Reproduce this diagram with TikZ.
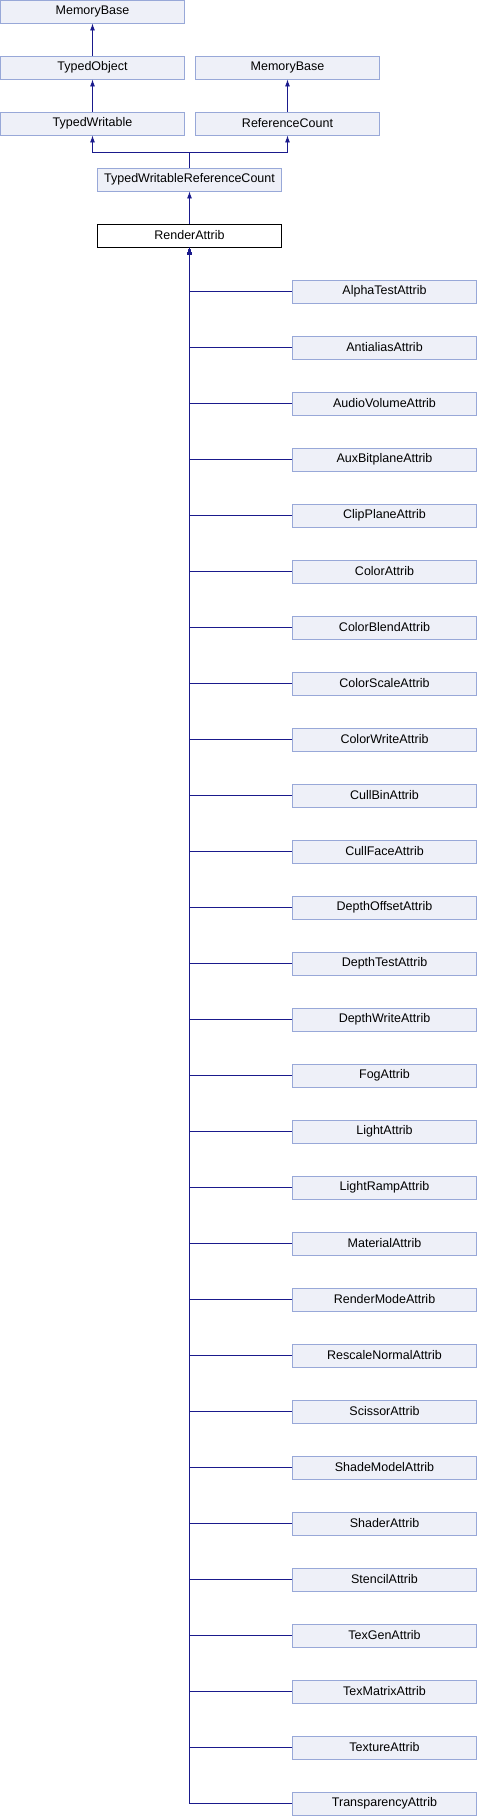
\documentclass[tikz,border=0pt]{standalone}
\usepackage{fontspec}
\setmainfont{Liberation Sans}
\usetikzlibrary{arrows.meta}
\definecolor{boxfill}{HTML}{EEF0F8}
\definecolor{boxline}{HTML}{98A8D8}
\definecolor{edge}{HTML}{1A1A8C}
\begin{document}
\begin{tikzpicture}[x=1pt,y=1pt,
  cls/.style={draw=boxline,fill=boxfill,line width=0.9pt,minimum width=184pt,minimum height=23pt,inner sep=0pt,font=\fontsize{12.5}{13}\selectfont},
  cur/.style={cls,draw=black,fill=white},
  arr/.style={draw=edge,line width=0.9pt,-{Latex[length=7pt,width=5pt]}},
  ln/.style={draw=edge,line width=0.9pt}]
\useasboundingbox (0,0) rectangle (477,-1816);
\node[cls] (mb1) at (92.5,-11.5) {MemoryBase};
\node[cls] (to) at (92.5,-67.5) {TypedObject};
\node[cls] (mb2) at (287.5,-67.5) {MemoryBase};
\node[cls] (tw) at (92.5,-123.5) {TypedWritable};
\node[cls] (rc) at (287.5,-123.5) {ReferenceCount};
\node[cls] (twrc) at (189.5,-179.5) {TypedWritableReferenceCount};
\node[cur] (ra) at (189.5,-235.5) {RenderAttrib};
\draw[arr] (to.north) -- (mb1.south);
\draw[arr] (tw.north) -- (to.south);
\draw[arr] (rc.north) -- (mb2.south);
\coordinate (j) at (189.5,-152);
\draw[ln] (twrc.north) -- (j);
\draw[arr] (j) -| (tw.south);
\draw[arr] (j) -| (rc.south);
\draw[arr] (ra.north) -- (twrc.south);
\foreach \n [count=\i from 0] in {AlphaTestAttrib,AntialiasAttrib,AudioVolumeAttrib,AuxBitplaneAttrib,ClipPlaneAttrib,ColorAttrib,ColorBlendAttrib,ColorScaleAttrib,ColorWriteAttrib,CullBinAttrib,CullFaceAttrib,DepthOffsetAttrib,DepthTestAttrib,DepthWriteAttrib,FogAttrib,LightAttrib,LightRampAttrib,MaterialAttrib,RenderModeAttrib,RescaleNormalAttrib,ScissorAttrib,ShadeModelAttrib,ShaderAttrib,StencilAttrib,TexGenAttrib,TexMatrixAttrib,TextureAttrib,TransparencyAttrib}{
  \node[cls] (c\i) at (384.5,{-291.5-56*\i}) {\n};
  \draw[arr] (c\i.west) -| (ra.south);
}
\end{tikzpicture}
\end{document}
